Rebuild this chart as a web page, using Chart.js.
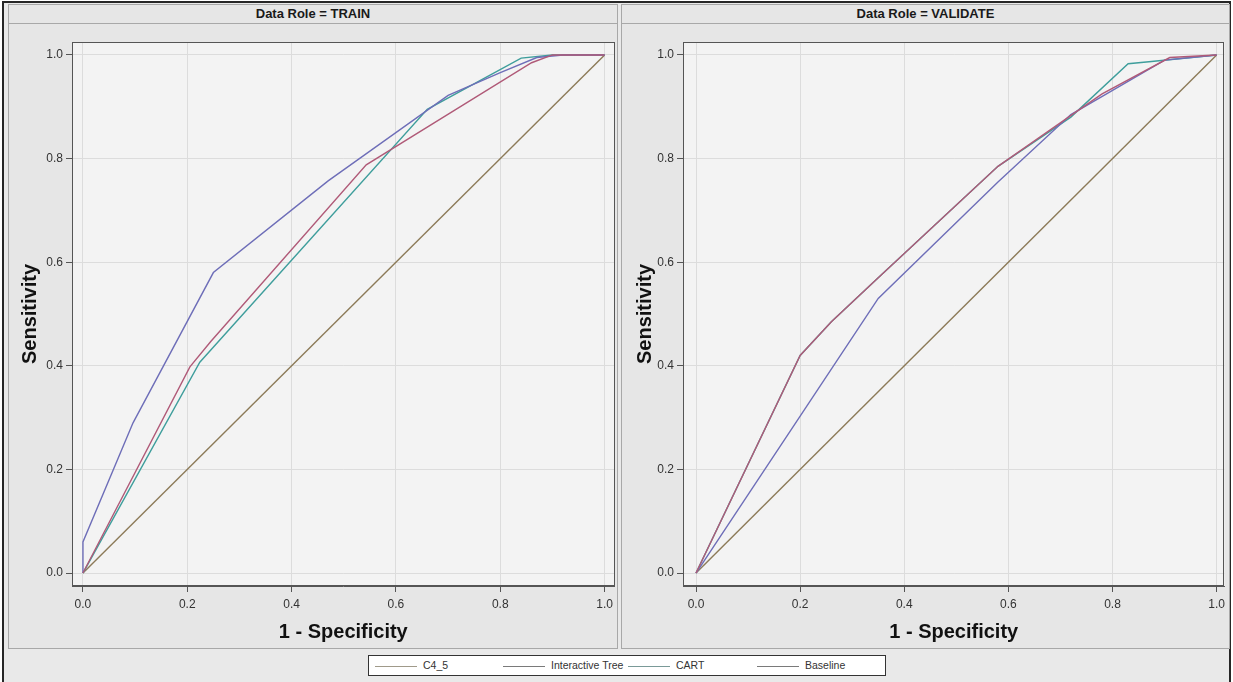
<!DOCTYPE html>
<html>
<head>
<meta charset="utf-8">
<script src="https://cdn.jsdelivr.net/npm/chart.js@4"></script>
<style>
html,body{margin:0;padding:0;background:#fff;width:1233px;height:682px;overflow:hidden;font-family:"Liberation Sans",Arial,sans-serif}
#outer{position:absolute;left:2px;top:1px;width:1229px;height:700px;box-sizing:border-box;border:2px solid #262626;background:#e9e9e9}
.panel{position:absolute;top:4px;height:645px;box-sizing:border-box;border:1px solid #a8a8a8;background:#e6e6e6}
.hdr{position:absolute;left:0;top:0;right:0;height:18px;border-bottom:1px solid #a8a8a8;text-align:center;line-height:18px;font-size:13px;font-weight:bold;color:#1a1a1a}
.cwrap{position:absolute;top:23px;height:626px}
#legend{position:absolute;left:368px;top:655px;width:518px;height:21px;box-sizing:border-box;border:1px solid #333;background:#fff;font-size:10.5px;color:#333}
.li{position:absolute;top:0;height:19px;line-height:19px;white-space:nowrap}
.li span.sw{display:inline-block;vertical-align:middle;width:42px;height:0;border-top:1.5px solid #777;margin-right:6px}
</style>
</head>
<body>
<div id="outer"></div>
<div class="panel" style="left:8px;width:610px"><div class="hdr" id="h1"></div></div>
<div class="panel" style="left:621px;width:609px"><div class="hdr" id="h2"></div></div>
<div class="cwrap" style="left:8px;width:610px"><canvas id="c1" width="610" height="626"></canvas></div>
<div class="cwrap" style="left:621px;width:609px"><canvas id="c2" width="609" height="626"></canvas></div>
<div id="legend"></div>
<script>
// ---- data ----
const panelTitles = ['Data Role = TRAIN', 'Data Role = VALIDATE'];
const seriesNames = ['C4_5', 'Interactive Tree', 'CART', 'Baseline'];
const xTicks = [0, 0.2, 0.4, 0.6, 0.8, 1.0];
const yTicks = [0, 0.2, 0.4, 0.6, 0.8, 1.0];
const xTitle = '1 - Specificity';
const yTitle = 'Sensitivity';

// TRAIN panel: [1-specificity, sensitivity]
const trainC45 = [[0,0],[0.205,0.398],[0.245,0.447],[0.543,0.788],[0.86,0.985],[0.9,1.0],[1,1]];
const trainTree = [[0,0],[0,0.06],[0.096,0.29],[0.25,0.58],[0.47,0.757],[0.7,0.922],[0.8,0.966],[0.87,0.995],[0.92,1.0],[1,1]];
const trainCART = [[0,0],[0.224,0.407],[0.66,0.895],[0.84,0.994],[0.9,1.0],[1,1]];
const trainBase = [[0,0],[1,1]];

// VALIDATE panel
const valC45 = [[0,0],[0.2,0.42],[0.26,0.485],[0.35,0.57],[0.58,0.785],[0.73,0.89],[0.78,0.925],[0.91,0.995],[1,1]];
const valTree = [[0,0],[0.35,0.53],[0.58,0.755],[0.72,0.885],[0.9,0.99],[1,1]];
const valCART = [[0,0],[0.2,0.42],[0.26,0.485],[0.35,0.57],[0.58,0.785],[0.72,0.88],[0.83,0.983],[0.87,0.987],[1,1]];
const valBase = [[0,0],[1,1]];

// ---- styles ----
const colors = ['#b05a78', '#6e6eb8', '#3f9e9c', '#8c7a58'];
const legendColors = ['#a09a8a', '#7a7a7a', '#7a9a98', '#7a7a7a'];

Chart.defaults.font.family = '"Liberation Sans", Arial, sans-serif';

document.getElementById('h1').textContent = panelTitles[0];
document.getElementById('h2').textContent = panelTitles[1];

const framePlugin = {
  id: 'frame',
  beforeDraw(chart) {
    const {ctx, chartArea: a} = chart;
    ctx.save();
    ctx.fillStyle = '#f3f3f3';
    ctx.fillRect(a.left, a.top, a.right - a.left, a.bottom - a.top);
    ctx.restore();
  },
  afterDraw(chart) {
    const {ctx, chartArea: a} = chart;
    ctx.save();
    ctx.strokeStyle = '#555';
    ctx.lineWidth = 1;
    ctx.strokeRect(Math.round(a.left) + 0.5, Math.round(a.top) + 0.5, Math.round(a.right - a.left) - 1, Math.round(a.bottom - a.top) - 1);
    ctx.restore();
  }
};

function toXY(arr) { return arr.map(p => ({x: p[0], y: p[1]})); }

function makeChart(id, series, cfg) {
  const datasets = series.map((s, i) => ({
    label: seriesNames[i],
    data: toXY(s),
    borderColor: colors[i],
    borderWidth: 1.4,
    pointRadius: 0,
    tension: 0,
    fill: false
  }));
  return new Chart(document.getElementById(id), {
    type: 'line',
    data: {datasets},
    plugins: [framePlugin],
    options: {
      responsive: false,
      animation: false,
      devicePixelRatio: 1,
      layout: {padding: {top: 19, right: cfg.padRight, left: 0, bottom: 0}},
      plugins: {legend: {display: false}, tooltip: {enabled: false}},
      scales: {
        x: {
          type: 'linear',
          min: cfg.xmin, max: cfg.xmax,
          afterBuildTicks: s => { s.ticks = xTicks.map(v => ({value: v})); },
          afterFit: s => { s.height = 63; },
          grid: {color: '#dcdcdc', tickColor: '#555', tickLength: 6, drawTicks: true},
          border: {display: true, color: '#555'},
          ticks: {color: '#333', font: {size: 12}, padding: 5, maxRotation: 0, autoSkip: false,
                  callback: v => v.toFixed(1)},
          title: {display: true, text: xTitle, color: '#111', font: {size: 20, weight: 'bold'},
                  padding: {top: 2, bottom: 5}}
        },
        y: {
          type: 'linear',
          min: -0.025, max: 1.025,
          afterBuildTicks: s => { s.ticks = yTicks.map(v => ({value: v})); },
          afterFit: s => { s.width = cfg.yWidth; },
          grid: {color: '#dcdcdc', tickColor: '#555', tickLength: 6, drawTicks: true},
          border: {display: true, color: '#555'},
          ticks: {color: '#333', font: {size: 12}, padding: 3, autoSkip: false,
                  callback: v => v.toFixed(1)},
          title: {display: true, text: yTitle, color: '#111', font: {size: 20, weight: 'bold'},
                  padding: {top: cfg.yTitlePad, bottom: 2}}
        }
      }
    }
  });
}

makeChart('c1', [trainC45, trainTree, trainCART, trainBase],
  {xmin: -0.021, xmax: 1.019, yWidth: 64, padRight: 2, yTitlePad: 10});
makeChart('c2', [valC45, valTree, valCART, valBase],
  {xmin: -0.025, xmax: 1.015, yWidth: 62, padRight: 2, yTitlePad: 12});

// legend
const legendPos = [6, 134, 259, 388];
const lg = document.getElementById('legend');
seriesNames.forEach((n, i) => {
  const d = document.createElement('div');
  d.className = 'li';
  d.style.left = legendPos[i] + 'px';
  const sw = document.createElement('span');
  sw.className = 'sw';
  sw.style.borderTopColor = legendColors[i];
  d.appendChild(sw);
  d.appendChild(document.createTextNode(n));
  lg.appendChild(d);
});
</script>
</body>
</html>
